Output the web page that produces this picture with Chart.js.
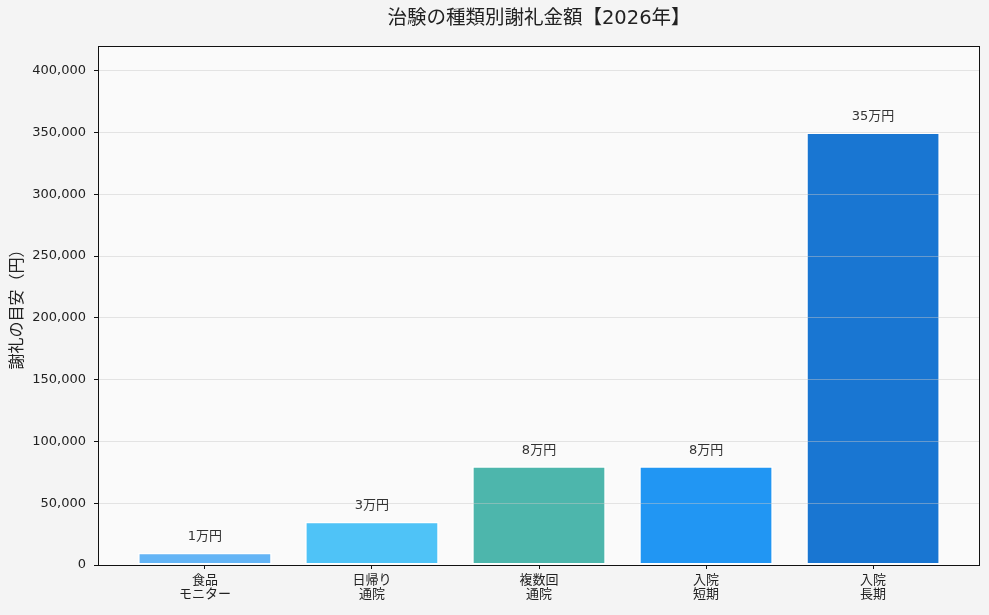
<!DOCTYPE html>
<html lang="ja">
<head>
<meta charset="utf-8">
<script src="https://cdn.jsdelivr.net/npm/chart.js@4.4.1/dist/chart.umd.min.js"></script>
<style>
html, body { margin: 0; padding: 0; background: #f4f4f4; }
#wrap { width: 989px; height: 615px; }
</style>
</head>
<body>
<div id="wrap"><canvas id="grafik" width="989" height="615"></canvas></div>
<script>
// data
const categories = [["食品", "モニター"], ["日帰り", "通院"], ["複数回", "通院"], ["入院", "短期"], ["入院", "長期"]];
const amounts = [10000, 35000, 80000, 80000, 350000];
const valueLabels = ["1万円", "3万円", "8万円", "8万円", "35万円"];
const barColors = ["#64b5f6", "#4fc3f7", "#4db6ac", "#2196f3", "#1976d2"];
const yTicks = [0, 50000, 100000, 150000, 200000, 250000, 300000, 350000, 400000];
const yMax = 420000;

Chart.defaults.font.family = "'DejaVu Sans', 'Noto Sans CJK JP', sans-serif";
Chart.defaults.color = "#222";

// page + plot background, frame, value labels
const latar = {
    id: 'latar',
    beforeDraw(chart) {
        const { ctx, chartArea: a } = chart;
        ctx.save();
        ctx.fillStyle = '#f4f4f4';
        ctx.fillRect(0, 0, chart.width, chart.height);
        ctx.fillStyle = '#fafafa';
        ctx.fillRect(a.left, a.top, a.right - a.left, a.bottom - a.top);
        ctx.restore();
    },
    afterDraw(chart) {
        const { ctx, chartArea: a } = chart;
        ctx.save();
        ctx.strokeStyle = '#111';
        ctx.lineWidth = 1;
        ctx.strokeRect(Math.round(a.left) + 0.5, Math.round(a.top) + 0.5,
                       Math.round(a.right - a.left) - 1, Math.round(a.bottom - a.top));
        // label di atas bar
        const meta = chart.getDatasetMeta(0);
        ctx.fillStyle = '#333';
        ctx.font = "13px 'DejaVu Sans', 'Noto Sans CJK JP', sans-serif";
        ctx.textAlign = 'center';
        ctx.textBaseline = 'middle';
        meta.data.forEach((bar, i) => {
            ctx.fillText(valueLabels[i], bar.x, bar.y - 16);
        });
        ctx.restore();
    }
};

new Chart(document.getElementById('grafik'), {
    type: 'bar',
    data: {
        datasets: [{
            data: amounts.map((v, i) => ({ x: i, y: v })),
            backgroundColor: barColors,
            borderColor: '#ffffff',
            borderWidth: 1.5,
            borderSkipped: false,
            categoryPercentage: 1,
            barPercentage: 0.8
        }]
    },
    options: {
        responsive: false,
        animation: false,
        layout: { padding: { top: 0, right: 9, bottom: 0, left: 0 } },
        plugins: {
            legend: { display: false },
            tooltip: { enabled: false },
            title: {
                display: true,
                text: '治験の種類別謝礼金額【2026年】',
                fullSize: false,
                color: '#222',
                font: { size: 19.5, weight: 'normal' },
                padding: { top: 7, bottom: 15.6 }
            }
        },
        scales: {
            x: {
                type: 'linear',
                offset: false,
                min: -0.64,
                max: 4.64,
                afterBuildTicks: s => { s.ticks = categories.map((c, i) => ({ value: i })); },
                afterFit: s => { s.height = 50; },
                ticks: {
                    callback: v => categories[v],
                    font: { size: 13, lineHeight: 1.1 },
                    color: '#222',
                    padding: 4,
                    maxRotation: 0,
                    autoSkip: false
                },
                grid: { offset: false, drawOnChartArea: false, tickLength: 4, tickColor: '#111' },
                border: { display: false }
            },
            y: {
                min: 0,
                max: yMax,
                afterBuildTicks: s => { s.ticks = yTicks.map(v => ({ value: v })); },
                afterFit: s => { s.width = 98; },
                ticks: {
                    callback: v => v.toLocaleString('en-US'),
                    font: { size: 13 },
                    color: '#222',
                    padding: 8
                },
                grid: { z: 1, color: 'rgba(200,200,200,0.45)', tickLength: 4, tickColor: '#111' },
                border: { display: false },
                title: {
                    display: true,
                    text: '謝礼の目安（円）',
                    font: { family: "'Noto Sans CJK JP', sans-serif", size: 16 },
                    color: '#222',
                    padding: { top: 6, bottom: 0 }
                }
            }
        }
    },
    plugins: [latar]
});
</script>
</body>
</html>
